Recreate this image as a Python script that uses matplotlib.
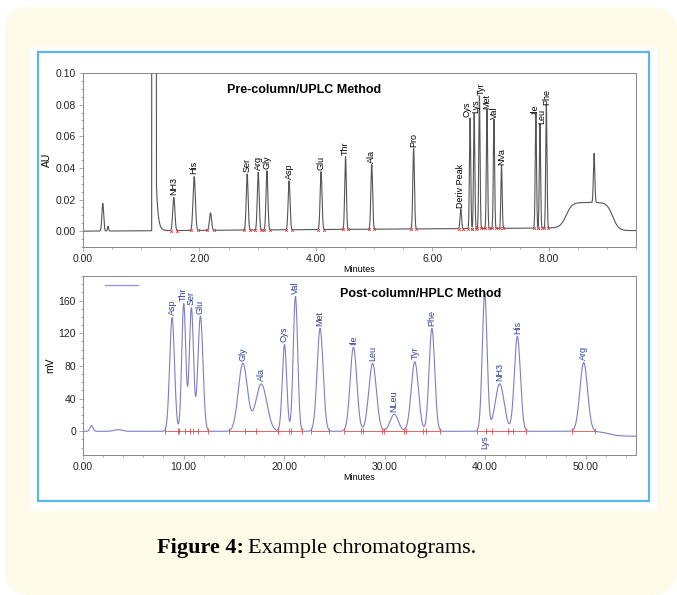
import numpy as np
import matplotlib.pyplot as plt
from matplotlib.patches import FancyBboxPatch, Rectangle
from matplotlib.ticker import MultipleLocator, FormatStrFormatter

plt.rcParams['font.family'] = ['Liberation Sans', 'DejaVu Sans']

# --- Pre-column / UPLC peaks (minutes, AU, width) ---
uplc_names = ["NH3", "His", "", "Ser", "Arg", "Gly", "Asp", "Glu", "Thr", "Ala", "Pro",
              "Deriv Peak", "Cys", "Lys", "Tyr", "Met", "Val", "NVa", "Ile", "Leu", "Phe"]
uplc_time = [1.56, 1.91, 2.19, 2.82, 3.01, 3.16, 3.54, 4.09, 4.51, 4.96, 5.68,
             6.49, 6.65, 6.72, 6.81, 6.94, 7.06, 7.19, 7.78, 7.85, 7.96]
uplc_height = [0.021, 0.034, 0.011, 0.0355, 0.0366, 0.0374, 0.031, 0.0366, 0.046, 0.0408, 0.051,
               0.0125, 0.070, 0.073, 0.084, 0.0755, 0.069, 0.040, 0.072, 0.066, 0.078]
uplc_sigma = [0.018, 0.02, 0.018, 0.016, 0.016, 0.016, 0.016, 0.016, 0.014, 0.015, 0.014,
              0.013, 0.011, 0.011, 0.011, 0.011, 0.011, 0.011, 0.011, 0.011, 0.011]
# small label nudges (minutes) where names crowd together
uplc_nudge = [0, 0, 0, 0, 0, 0, 0, 0, 0, 0, 0, 0, -0.05, 0.035, 0.03, 0, 0, 0, -0.03, 0.03, 0]
# unlabelled early peaks and late wash spike
uplc_extra_time = [0.34, 0.43, 8.78]
uplc_extra_height = [0.0175, 0.003, 0.031]
uplc_extra_sigma = [0.015, 0.01, 0.012]

# --- Post-column / HPLC peaks (minutes, mV, width) ---
hplc_names = ["Asp", "Thr", "Ser", "Glu", "Gly", "Ala", "Cys", "Val", "Met", "Ile", "Leu",
              "NLeu", "Tyr", "Phe", "Lys", "NH3", "His", "Arg"]
hplc_time = [8.86, 10.02, 10.78, 11.68, 15.9, 17.73, 20.04, 21.13, 23.58, 26.9, 28.8,
             30.95, 33.0, 34.7, 39.95, 41.44, 43.2, 49.8]
hplc_height = [139, 156, 151, 141, 83, 58, 106, 165, 126, 103, 83, 21, 85, 126, 168, 58, 116, 84]
hplc_sigma = [0.24, 0.2, 0.21, 0.25, 0.45, 0.55, 0.22, 0.22, 0.3, 0.33, 0.38, 0.4, 0.36, 0.28,
              0.24, 0.45, 0.3, 0.38]
hplc_extra_time = [0.85, 3.5]
hplc_extra_height = [7, 2]
hplc_extra_sigma = [0.15, 0.4]


def gauss(t, c, h, s):
    return h * np.exp(-0.5 * ((t - c) / s) ** 2)


fig = plt.figure(figsize=(6.77, 5.95), dpi=100)
W, H = 677, 595

def px(x0, y0, x1, y1):
    # pixel box (top-left origin) -> figure fraction rect
    return [x0 / W, 1 - y1 / H, (x1 - x0) / W, (y1 - y0) / H]

# page background
bg = FancyBboxPatch((5 / W, 0), 672 / W, 588 / H, boxstyle="round,pad=0,rounding_size=0.04",
                    transform=fig.transFigure, facecolor="#fefae8", edgecolor="none", zorder=-3)
fig.patches.append(bg)
r = px(30, 47, 657, 511)
fig.patches.append(Rectangle((r[0], r[1]), r[2], r[3], transform=fig.transFigure,
                             facecolor="white", edgecolor="none", zorder=-2))
r = px(38, 52, 649, 501)
fig.patches.append(Rectangle((r[0], r[1]), r[2], r[3], transform=fig.transFigure,
                             facecolor="none", edgecolor="#5ab6e2", lw=1.6, zorder=-1))

# ---------------- top: UPLC ----------------
ax1 = fig.add_axes(px(83, 73, 636, 247))
t = np.linspace(0, 9.5, 6000)
y = 0.00025 * t  # slight baseline drift
for c, h, s in zip(uplc_time, uplc_height, uplc_sigma):
    y = y + gauss(t, c, h, s)
for c, h, s in zip(uplc_extra_time, uplc_extra_height, uplc_extra_sigma):
    y = y + gauss(t, c, h, s)
# solvent front
y = y + np.where((t > 1.18) & (t < 1.26), 0.5, 0)
y = y + np.where(t >= 1.26, 0.03 * np.exp(-(t - 1.26) / 0.03), 0)
# broad wash hump
rise = 1 / (1 + np.exp(-(t - 8.3) / 0.05))
fall = 1 / (1 + np.exp((t - 9.1) / 0.05))
y = y + 0.018 * rise * fall - 0.002 * rise
ax1.plot(t, y, color="#555555", lw=0.8)
for c, s in zip(uplc_time, uplc_sigma):
    ax1.plot([c - 3 * s, c + 3 * s], [0.00025 * c] * 2, ls="none", marker="x",
             ms=2, mew=0.6, color="#e04040")
for name, c, h, dn in zip(uplc_names, uplc_time, uplc_height, uplc_nudge):
    if name:
        ax1.text(c + dn, h + 0.002, name, rotation=90, ha="center", va="bottom", fontsize=6.5)
ax1.set_xlim(0, 9.5)
ax1.set_ylim(-0.01, 0.10)
ax1.xaxis.set_major_locator(MultipleLocator(2))
ax1.xaxis.set_minor_locator(MultipleLocator(0.5))
ax1.yaxis.set_major_locator(MultipleLocator(0.02))
ax1.yaxis.set_minor_locator(MultipleLocator(0.005))
ax1.xaxis.set_major_formatter(FormatStrFormatter("%.2f"))
ax1.yaxis.set_major_formatter(FormatStrFormatter("%.2f"))
ax1.set_xlabel("Minutes", fontsize=6.5, labelpad=1)
ax1.set_ylabel("AU", fontsize=7.5, labelpad=3)
ax1.text(0.4, 0.9, "Pre-column/UPLC Method", transform=ax1.transAxes, fontsize=9,
         fontweight="bold", ha="center", va="center")

# ---------------- bottom: HPLC ----------------
ax2 = fig.add_axes(px(83, 276, 636, 455))
t2 = np.linspace(0, 55, 6000)
y2 = np.zeros_like(t2)
for c, h, s in zip(hplc_time, hplc_height, hplc_sigma):
    y2 = y2 + gauss(t2, c, h, s)
for c, h, s in zip(hplc_extra_time, hplc_extra_height, hplc_extra_sigma):
    y2 = y2 + gauss(t2, c, h, s)
y2 = y2 - 6 / (1 + np.exp(-(t2 - 52.3) / 0.5))
ax2.plot(t2, y2, color="#7d7dc4", lw=0.8)
for c, s in zip(hplc_time, hplc_sigma):
    ax2.plot([c - 3 * s, c + 3 * s], [0, 0], color="#e05050", lw=0.6)
    ax2.plot([c - 3 * s, c + 3 * s], [0, 0], ls="none", marker="|", ms=4, mew=0.6,
             color="#e05050")
for name, c, h in zip(hplc_names, hplc_time, hplc_height):
    if name == "Lys":
        ax2.text(c, -5, name, rotation=90, ha="center", va="top", fontsize=6.5, color="#2e3f9e")
    else:
        ax2.text(c, h + 3, name, rotation=90, ha="center", va="bottom", fontsize=6.5,
                 color="#2e3f9e")
ax2.set_xlim(0, 55)
ax2.set_ylim(-29, 190)
ax2.xaxis.set_major_locator(MultipleLocator(10))
ax2.xaxis.set_minor_locator(MultipleLocator(2))
ax2.yaxis.set_major_locator(MultipleLocator(40))
ax2.yaxis.set_minor_locator(MultipleLocator(10))
ax2.xaxis.set_major_formatter(FormatStrFormatter("%.2f"))
ax2.set_xlabel("Minutes", fontsize=6.5, labelpad=1)
ax2.set_ylabel("mV", fontsize=7.5, labelpad=2)
ax2.text(0.61, 0.9, "Post-column/HPLC Method", transform=ax2.transAxes, fontsize=9,
         fontweight="bold", ha="center", va="center")
ax2.plot([0.04, 0.1], [0.95, 0.95], transform=ax2.transAxes, color="#9a9ad8", lw=1)

for ax in (ax1, ax2):
    for sp in ax.spines.values():
        sp.set_color("#888888")
        sp.set_linewidth(0.7)
    ax.tick_params(which="both", labelsize=7.5, labelcolor="#222222", color="#888888",
                   width=0.5, pad=2)
    ax.tick_params(which="major", length=3)
    ax.tick_params(which="minor", length=1.5)

fig.text(244 / W, 1 - 548 / H, "Figure 4:", fontsize=16, fontweight="bold", ha="right",
         va="center", family="Liberation Serif")
fig.text(248 / W, 1 - 548 / H, "Example chromatograms.", fontsize=16, ha="left",
         va="center", family="Liberation Serif")

fig.savefig("out.png", dpi=100)
